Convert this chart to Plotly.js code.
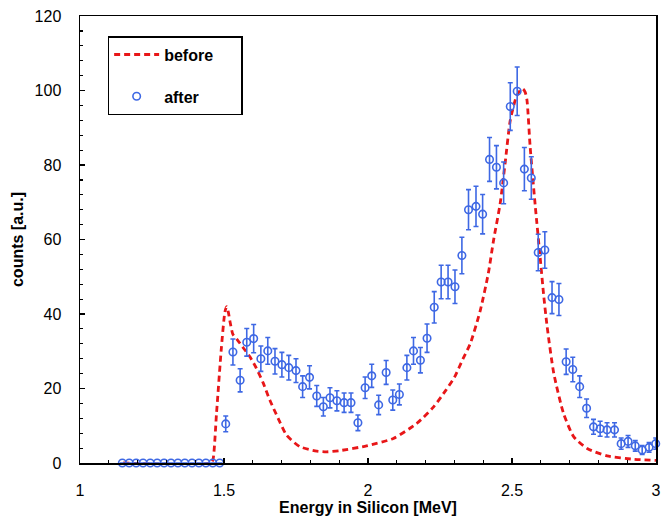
<!DOCTYPE html>
<html>
<head>
<meta charset="utf-8">
<script src="https://cdn.plot.ly/plotly-3.0.1.min.js"></script>
<style>html,body{margin:0;padding:0;background:#fff;}#chart{width:662px;height:522px;}</style>
</head>
<body>
<div id="chart"></div>
<script>
// "before" curve (energy in MeV, counts)
var beforeX = [1.15, 1.455, 1.462, 1.474, 1.491, 1.503, 1.509, 1.515, 1.522, 1.531, 1.545, 1.566, 1.590, 1.612, 1.636, 1.659, 1.688, 1.717, 1.763, 1.822, 1.856, 1.90, 1.995, 2.088, 2.169, 2.227, 2.27, 2.30, 2.33, 2.355, 2.39, 2.418, 2.436, 2.459, 2.476, 2.494, 2.515, 2.530, 2.538, 2.546, 2.552, 2.563, 2.581, 2.598, 2.610, 2.622, 2.645, 2.679, 2.714, 2.761, 2.830, 2.923, 3.0];
var beforeY = [0, 0, 1, 13.3, 31, 40.5, 42, 40.5, 37.5, 34.5, 33.2, 31.0, 28.5, 25.5, 21.5, 16.9, 12, 7.5, 4.4, 3.2, 3.0, 3.3, 4.6, 6.6, 10.6, 15, 19.5, 23, 28, 32, 41, 51, 59.8, 69.7, 80.4, 92, 98.3, 100.2, 100.4, 99.5, 97.4, 84.9, 68.8, 55, 45, 36.6, 24.1, 13.3, 7.1, 3.9, 1.9, 1.0, 0.7];

// "after" measured points with error bars
var afterX = [1.147, 1.171, 1.195, 1.219, 1.244, 1.268, 1.292, 1.316, 1.340, 1.364, 1.389, 1.413, 1.437, 1.461, 1.485,
  1.506, 1.531, 1.556, 1.579, 1.603, 1.628, 1.652, 1.677, 1.701, 1.725, 1.750, 1.773, 1.797, 1.822, 1.845, 1.868, 1.892, 1.917, 1.941, 1.965,
  1.990, 2.013, 2.037, 2.063, 2.086, 2.109, 2.135, 2.158, 2.182, 2.205, 2.230, 2.254, 2.278, 2.302, 2.326, 2.349, 2.375, 2.398, 2.422, 2.446,
  2.471, 2.494, 2.518, 2.543, 2.567, 2.591, 2.614, 2.639, 2.663, 2.688, 2.711, 2.735, 2.759, 2.783, 2.806, 2.830, 2.856, 2.879, 2.903, 2.928,
  2.952, 2.976, 2.999, 3.021];
var afterY = [0, 0, 0, 0, 0, 0, 0, 0, 0, 0, 0, 0, 0, 0, 0,
  10.5, 29.8, 22.2, 32.4, 33.4, 28.0, 30.1, 27.3, 26.4, 25.6, 24.8, 20.5, 23.0, 18.0, 15.1, 17.5, 16.7, 16.2, 16.2, 10.8,
  20.2, 23.4, 15.6, 24.3, 16.9, 18.4, 25.6, 30.1, 27.6, 33.5, 41.8, 48.6, 48.6, 47.3, 55.7, 68.0, 68.9, 66.8, 81.5, 79.4,
  75.2, 95.7, 99.8, 78.9, 76.5, 56.5, 57.2, 44.4, 43.9, 27.2, 25.1, 20.5, 14.7, 9.7, 9.2, 8.9, 8.9, 5.2, 5.8, 4.6,
  3.5, 4.2, 5.2, 5.5];
var afterErr = [0, 0, 0, 0, 0, 0, 0, 0, 0, 0, 0, 0, 0, 0, 0,
  2.1, 3.5, 3.1, 3.7, 3.8, 3.4, 3.6, 3.4, 3.3, 3.3, 3.2, 2.9, 3.1, 2.8, 2.5, 2.7, 2.7, 2.6, 2.6, 2.1,
  2.9, 3.1, 2.6, 3.2, 2.7, 2.8, 3.3, 3.6, 3.4, 3.8, 4.2, 4.5, 4.5, 4.5, 4.9, 5.4, 5.4, 5.3, 5.9, 5.8,
  5.6, 6.4, 6.5, 5.8, 5.7, 4.9, 4.9, 4.3, 4.3, 3.4, 3.3, 2.9, 2.5, 2.0, 2.0, 1.9, 1.9, 1.5, 1.6, 1.4,
  1.2, 1.3, 1.5, 1.5];

var xTitle = 'Energy in Silicon [MeV]';
var yTitle = 'counts [a.u.]';
var legendNames = ['before&nbsp;&nbsp;&nbsp;&nbsp;&nbsp;', 'after'];

var red = 'rgb(232,22,24)';
var blue = 'rgb(62,104,228)';
var fontFam = 'Liberation Sans, Arial, sans-serif';

var traces = [
  {
    x: beforeX, y: beforeY, name: legendNames[0], type: 'scatter', mode: 'lines',
    line: {color: red, width: 2.8, dash: '6px,4px', shape: 'spline', smoothing: 0.6},
    legendgroup: 'a', cliponaxis: false
  },
  {
    x: afterX, y: afterY, name: legendNames[1], type: 'scatter', mode: 'markers',
    marker: {symbol: 'circle-open', size: 7.5, color: blue, line: {width: 1.6, color: blue}},
    error_y: {type: 'data', array: afterErr, visible: true, color: blue, thickness: 1.6, width: 2.5},
    legendgroup: 'b', cliponaxis: false
  }
];

var layout = {
  width: 662, height: 522,
  margin: {l: 80, r: 6, t: 16, b: 59},
  paper_bgcolor: '#fff', plot_bgcolor: '#fff',
  font: {family: fontFam, size: 16, color: '#000'},
  showlegend: true,
  legend: {
    x: 0.048, y: 0.955, xanchor: 'left', yanchor: 'top',
    bordercolor: '#000', borderwidth: 1.5, bgcolor: '#fff',
    font: {family: fontFam, size: 16, color: '#000', weight: 'bold'},
    traceorder: 'grouped', tracegroupgap: 18, itemwidth: 45
  },
  xaxis: {
    range: [1, 3], dtick: 0.5, tick0: 1,
    showgrid: false, zeroline: false,
    showline: true, linecolor: '#000', linewidth: 1.5, mirror: true,
    ticks: 'inside', ticklen: 5, tickwidth: 1.5, tickcolor: '#000',
    ticklabelstandoff: 12,
    minor: {ticks: 'inside', dtick: 0.1, ticklen: 3, tickwidth: 1.2, tickcolor: '#000', showgrid: false},
    tickfont: {family: fontFam, size: 16, color: '#000'},
    title: {text: xTitle, standoff: 4, font: {family: fontFam, size: 16, color: '#000', weight: 'bold'}}
  },
  yaxis: {
    range: [0, 120], dtick: 20, tick0: 0,
    showgrid: false, zeroline: false,
    showline: true, linecolor: '#000', linewidth: 1.5, mirror: true,
    ticks: 'inside', ticklen: 5, tickwidth: 1.5, tickcolor: '#000',
    ticklabelstandoff: 14,
    minor: {ticks: 'inside', dtick: 4, ticklen: 3, tickwidth: 1.2, tickcolor: '#000', showgrid: false},
    tickfont: {family: fontFam, size: 16, color: '#000'},
    title: {text: yTitle, standoff: 7, font: {family: fontFam, size: 16, color: '#000', weight: 'bold'}}
  }
};

Plotly.newPlot('chart', traces, layout, {displayModeBar: false, staticPlot: true});
</script>
</body>
</html>
